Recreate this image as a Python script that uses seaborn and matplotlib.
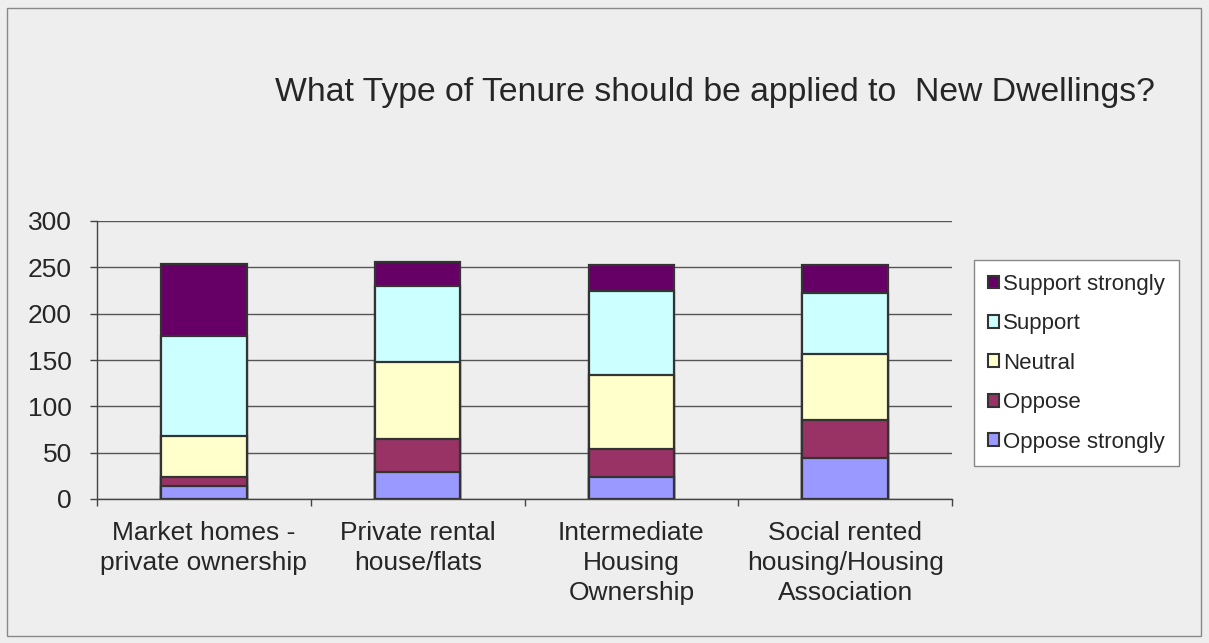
import matplotlib
matplotlib.use("Agg")
import matplotlib.pyplot as plt
import matplotlib.patches as mpatches
import seaborn as sns
import pandas as pd
import numpy as np

categories = ["Market homes -\nprivate ownership", "Private rental\nhouse/flats",
              "Intermediate\nHousing\nOwnership", "Social rented\nhousing/Housing\nAssociation"]
series_names = ["Oppose strongly", "Oppose", "Neutral", "Support", "Support strongly"]
oppose_strongly = [14, 29, 24, 44]
oppose = [10, 36, 30, 41]
neutral = [44, 83, 80, 72]
support = [108, 82, 90, 65]
support_strongly = [78, 26, 29, 31]
colors = {"Oppose strongly": "#9999FF", "Oppose": "#993366", "Neutral": "#FFFFCC",
          "Support": "#CCFFFF", "Support strongly": "#660066"}
y_ticks = [0, 50, 100, 150, 200, 250, 300]
title = "What Type of Tenure should be applied to  New Dwellings?"

sns.set_style("white")
plt.rcParams['font.family'] = ['Liberation Sans', 'DejaVu Sans']
text_color = "#262626"

values = [oppose_strongly, oppose, neutral, support, support_strongly]
cum = np.cumsum(np.array(values), axis=0)
rows = []
for name, c in zip(series_names, cum):
    for cat, v in zip(categories, c):
        rows.append({"category": cat, "series": name, "cum": v})
df = pd.DataFrame(rows)

fig = plt.figure(figsize=(12.09, 6.43), dpi=100)
fig.patch.set_facecolor("#EEEEEE")
ax = fig.add_axes([97/1209, 1-499/643, (952-97)/1209, (499-221)/643])
ax.set_facecolor("#EEEEEE")

for name in reversed(series_names):
    sub = df[df["series"] == name]
    sns.barplot(data=sub, x="category", y="cum", order=categories, color=colors[name],
                saturation=1, width=0.4, edgecolor="#333333", linewidth=1.6, ax=ax, zorder=3)

ax.set_ylim(0, 300)
ax.set_xlim(-0.5, 3.5)
ax.set_yticks(y_ticks)
ax.yaxis.grid(True, color="#555555", linewidth=1)
ax.set_axisbelow(True)
ax.set_xlabel("")
ax.set_ylabel("")
for s in ["top", "right"]:
    ax.spines[s].set_visible(False)
for s in ["left", "bottom"]:
    ax.spines[s].set_color("#444444")
    ax.spines[s].set_linewidth(1)
ax.tick_params(axis="y", length=5, width=1, color="#444444", pad=13,
               labelsize=19, labelcolor=text_color, left=True)
ax.set_xticks(range(len(categories)))
ax.set_xticklabels(categories, linespacing=1.3)
ax.tick_params(axis="x", length=0, pad=16, labelsize=19, labelcolor=text_color)
ax.set_xticks(np.arange(-0.5, len(categories), 1.0), minor=True)
ax.tick_params(axis="x", which="minor", length=5, width=1, color="#444444", bottom=True,
               direction="out")

handles = [mpatches.Patch(facecolor=colors[n], edgecolor="#333333", linewidth=1.5, label=n)
           for n in reversed(series_names)]
leg = fig.legend(handles=handles, loc="upper left",
                 bbox_to_anchor=(974/1209, 1-260/643), bbox_transform=fig.transFigure,
                 fontsize=16, frameon=True, fancybox=False, edgecolor="#888888",
                 facecolor="white", framealpha=1, handlelength=0.5, handleheight=0.5,
                 handletextpad=0.2, labelspacing=0.83, borderpad=0.62, borderaxespad=0)
for t in leg.get_texts():
    t.set_color(text_color)

fig.text(715/1209, 1-92/643, title, ha="center", va="center", fontsize=24.3, color=text_color)

fig.patches.append(mpatches.Rectangle((7/1209, 7/643), (1201-7)/1209, (635-7)/643,
                                      transform=fig.transFigure, facecolor="none",
                                      edgecolor="#888888", linewidth=1))

fig.savefig("out.png", dpi=100, facecolor=fig.get_facecolor())
